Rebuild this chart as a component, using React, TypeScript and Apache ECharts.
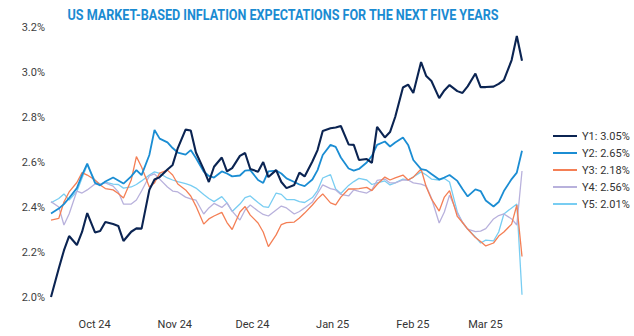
import { useEffect, useRef } from "react";
import * as echarts from "echarts";

// Observation dates: Fri 13 Sep 2024, then Mon / Wed / Fri of every week
// from the week of 16 Sep 2024 to the week of 10 Mar 2025.
const FIRST_DATE = "2024-09-13";
const FIRST_MONDAY = [2024, 8, 16];
const WEEK_COUNT = 26;
const WEEKDAY_OFFSETS = [0, 2, 4];

const MONTH_NAMES = ["Jan", "Feb", "Mar", "Apr", "May", "Jun", "Jul", "Aug", "Sep", "Oct", "Nov", "Dec"];

const SERIES_NAMES = ["Y1", "Y2", "Y3", "Y4", "Y5"];
const SERIES_COLORS = ["#0b2452", "#1b8dd3", "#f47f55", "#b8b1dc", "#78cdf2"];
const SERIES_WIDTHS = [2.1, 1.8, 1.3, 1.3, 1.3];

// Inflation expectation (%) for each horizon
const y1 = [
  2.0, 2.127, 2.207, 2.271, 2.231, 2.289, 2.373, 2.287, 2.293, 2.333,
  2.324, 2.316, 2.249, 2.29, 2.305, 2.304, 2.476, 2.522, 2.533, 2.567,
  2.587, 2.662, 2.744, 2.74, 2.642, 2.567, 2.511, 2.579, 2.62, 2.558,
  2.573, 2.627, 2.64, 2.569, 2.557, 2.6, 2.533, 2.564, 2.511, 2.484,
  2.498, 2.553, 2.536, 2.602, 2.653, 2.738, 2.75, 2.753, 2.76, 2.678,
  2.676, 2.609, 2.613, 2.596, 2.756, 2.709, 2.733, 2.8, 2.931, 2.944,
  2.907, 3.044, 2.982, 2.96, 2.884, 2.918, 2.942, 2.915, 2.907, 2.936,
  2.993, 2.933, 2.933, 2.935, 2.947, 2.964, 3.053, 3.16, 3.05,
];
const y2 = [
  2.371, 2.393, 2.413, 2.44, 2.484, 2.542, 2.593, 2.507, 2.496, 2.513,
  2.531, 2.518, 2.504, 2.536, 2.564, 2.542, 2.631, 2.742, 2.704, 2.687,
  2.662, 2.642, 2.633, 2.653, 2.618, 2.558, 2.538, 2.531, 2.558, 2.549,
  2.536, 2.54, 2.562, 2.564, 2.52, 2.507, 2.558, 2.562, 2.549, 2.527,
  2.511, 2.5, 2.493, 2.522, 2.564, 2.631, 2.676, 2.667, 2.62, 2.571,
  2.562, 2.569, 2.598, 2.627, 2.676, 2.691, 2.669, 2.687, 2.709, 2.676,
  2.609, 2.568, 2.564, 2.547, 2.522, 2.531, 2.542, 2.516, 2.48, 2.447,
  2.478, 2.471, 2.429, 2.402, 2.422, 2.471, 2.524, 2.553, 2.65,
];
const y3 = [
  2.342, 2.349, 2.422, 2.467, 2.509, 2.553, 2.542, 2.52, 2.498, 2.482,
  2.476, 2.46, 2.44, 2.52, 2.624, 2.578, 2.489, 2.507, 2.551, 2.564,
  2.542, 2.502, 2.476, 2.449, 2.404, 2.324, 2.347, 2.36, 2.376, 2.331,
  2.3, 2.378, 2.402, 2.364, 2.329, 2.289, 2.224, 2.276, 2.322, 2.331,
  2.333, 2.351, 2.373, 2.409, 2.436, 2.458, 2.418, 2.409, 2.444, 2.48,
  2.48, 2.482, 2.487, 2.473, 2.5, 2.533, 2.52, 2.529, 2.542, 2.52,
  2.533, 2.569, 2.489, 2.436, 2.382, 2.444, 2.473, 2.358, 2.331, 2.302,
  2.264, 2.247, 2.227, 2.24, 2.271, 2.289, 2.324, 2.409, 2.18,
];
const y4 = [
  2.424, 2.4, 2.32, 2.369, 2.471, 2.462, 2.476, 2.502, 2.502, 2.507,
  2.493, 2.467, 2.413, 2.413, 2.431, 2.471, 2.538, 2.547, 2.524, 2.489,
  2.471, 2.467, 2.444, 2.436, 2.431, 2.369, 2.396, 2.416, 2.398, 2.418,
  2.382, 2.342, 2.387, 2.409, 2.382, 2.367, 2.36, 2.387, 2.404, 2.396,
  2.369, 2.38, 2.396, 2.422, 2.46, 2.498, 2.482, 2.476, 2.456, 2.449,
  2.476, 2.469, 2.462, 2.476, 2.518, 2.524, 2.507, 2.507, 2.52, 2.52,
  2.507, 2.502, 2.493, 2.44, 2.329, 2.378, 2.453, 2.373, 2.333, 2.302,
  2.291, 2.293, 2.304, 2.347, 2.362, 2.369, 2.347, 2.32, 2.56,
];
const y5 = [
  2.419, 2.438, 2.458, 2.431, 2.469, 2.529, 2.587, 2.518, 2.502, 2.511,
  2.502, 2.5, 2.484, 2.489, 2.5, 2.516, 2.542, 2.556, 2.549, 2.529,
  2.52, 2.513, 2.504, 2.496, 2.484, 2.456, 2.438, 2.424, 2.446, 2.418,
  2.38, 2.413, 2.442, 2.449, 2.42, 2.402, 2.398, 2.462, 2.456, 2.433,
  2.433, 2.424, 2.42, 2.442, 2.473, 2.529, 2.544, 2.48, 2.46, 2.496,
  2.513, 2.527, 2.52, 2.5, 2.507, 2.516, 2.498, 2.507, 2.524, 2.52,
  2.533, 2.556, 2.542, 2.524, 2.52, 2.527, 2.511, 2.378, 2.331, 2.302,
  2.267, 2.24, 2.253, 2.249, 2.289, 2.369, 2.396, 2.413, 2.01,
];
const SERIES_VALUES = [y1, y2, y3, y4, y5];

const Y_MIN = 2.0;
const Y_MAX = 3.2;
const Y_STEP = 0.2;

const TITLE = "US MARKET-BASED INFLATION EXPECTATIONS FOR THE NEXT FIVE YEARS";

function pad(n: number) {
  return n < 10 ? "0" + n : String(n);
}

function buildDates(): string[] {
  const out = [FIRST_DATE];
  const [yr, mo, dy] = FIRST_MONDAY;
  for (let w = 0; w < WEEK_COUNT; w++) {
    for (const off of WEEKDAY_OFFSETS) {
      const d = new Date(Date.UTC(yr, mo, dy + w * 7 + off));
      out.push(`${d.getUTCFullYear()}-${pad(d.getUTCMonth() + 1)}-${pad(d.getUTCDate())}`);
    }
  }
  return out;
}

const FONT = "Roboto, 'Noto Sans', sans-serif";

export default function App() {
  const ref = useRef<HTMLDivElement>(null);

  useEffect(() => {
    if (!ref.current) return;
    document.body.style.margin = "0";
    const chart = echarts.init(ref.current, undefined, { renderer: "svg" });
    const dates = buildDates();

    const lastValue: Record<string, number> = {};
    SERIES_NAMES.forEach((n, i) => {
      const v = SERIES_VALUES[i];
      lastValue[n] = v[v.length - 1];
    });

    chart.setOption({
      animation: false,
      backgroundColor: "#ffffff",
      textStyle: { fontFamily: FONT },
      graphic: [
        {
          type: "text",
          x: 283,
          y: 15,
          scaleX: 0.9,
          style: {
            text: TITLE,
            fontFamily: FONT,
            fontWeight: "bold",
            fontSize: 14,
            fill: "#1a8bd2",
            align: "center",
            verticalAlign: "middle",
          },
        },
      ],
      grid: { left: 51, right: 112, top: 27, bottom: 39 },
      legend: {
        orient: "vertical",
        left: 548,
        top: 124,
        icon: "rect",
        itemWidth: 24,
        itemHeight: 2,
        itemGap: 3,
        data: SERIES_NAMES,
        formatter: (name: string) => `${name}: ${lastValue[name].toFixed(2)}%`,
        textStyle: { fontFamily: FONT, fontSize: 11, color: "#333333", lineHeight: 14 },
      },
      xAxis: {
        type: "time",
        min: dates[0],
        max: dates[dates.length - 1],
        axisLine: { show: false },
        axisTick: { show: false },
        splitLine: { show: false },
        axisLabel: {
          margin: 22,
          padding: [0, 6, 0, 0],
          fontFamily: FONT,
          fontSize: 11,
          color: "#333333",
          formatter: (v: number) => {
            const d = new Date(v);
            if (d.getDate() !== 1) return "";
            return `${MONTH_NAMES[d.getMonth()]} ${String(d.getFullYear()).slice(2)}`;
          },
        },
      },
      yAxis: {
        type: "value",
        min: Y_MIN,
        max: Y_MAX,
        interval: Y_STEP,
        axisLine: { show: false },
        axisTick: { show: false },
        splitLine: { show: false },
        axisLabel: {
          margin: 6,
          fontFamily: FONT,
          fontSize: 11,
          color: "#404040",
          formatter: (v: number) => `${v.toFixed(1)}%`,
        },
      },
      series: SERIES_NAMES.map((name, i) => ({
        name,
        type: "line",
        showSymbol: false,
        symbol: "none",
        z: 10 - i,
        lineStyle: { color: SERIES_COLORS[i], width: SERIES_WIDTHS[i] },
        itemStyle: { color: SERIES_COLORS[i] },
        data: dates.map((d, k) => [d, SERIES_VALUES[i][k]]),
      })),
    });

    return () => chart.dispose();
  }, []);

  return (
    <div
      ref={ref}
      style={{ position: "absolute", left: 0, top: 0, width: 634, height: 336 }}
    />
  );
}
